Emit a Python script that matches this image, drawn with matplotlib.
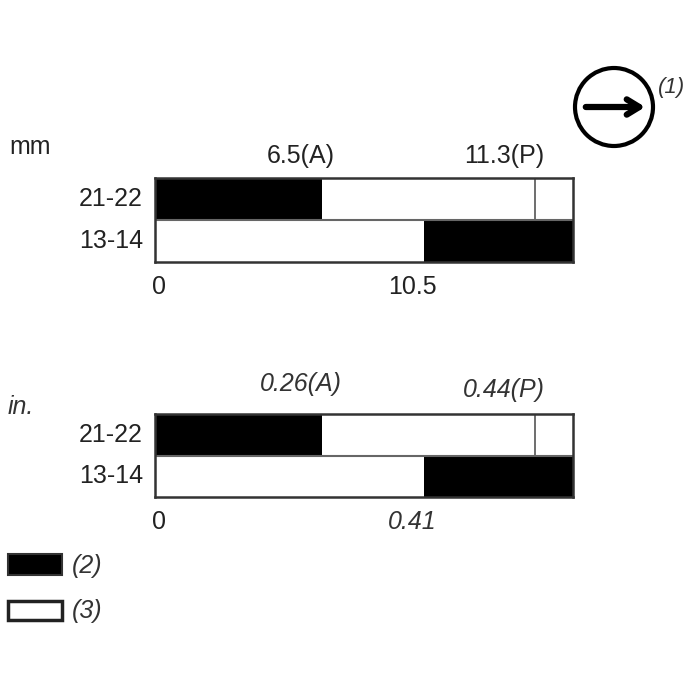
import matplotlib.pyplot as plt
from matplotlib.patches import Circle, Rectangle
plt.ioff()

plt.rcParams['font.family'] = ['Liberation Sans', 'DejaVu Sans']

# rows and segment lengths (mm)
rows = ['21-22', '13-14']
total_len = 16.3
black_start = [0.0, 10.5]
black_len = [6.5, 5.8]
white_start = [6.5, 0.0]
white_len = [9.8, 10.5]
p_mark = 14.83

# labels of the two scales
mm_a, mm_p, mm_tick = 6.5, 11.3, 10.5
in_a, in_p, in_tick = 0.26, 0.44, 0.41

DARK = '#222222'
SOFT = '#333333'
FS = 18

fig = plt.figure(figsize=(7, 7), dpi=100)
fig.patch.set_facecolor('white')


def px_axes(x0, y0, x1, y1):
    # pixel box (top-left origin) -> figure axes
    return fig.add_axes([x0 / 700, 1 - y1 / 700, (x1 - x0) / 700, (y1 - y0) / 700])


def draw_chart(ax, a_val, p_val, tick_val, unit, italic, off):
    ypos = [1, 0]
    ax.barh(ypos, white_len, left=white_start, height=1.0, color='white',
            edgecolor='none', zorder=1)
    ax.barh(ypos, black_len, left=black_start, height=1.0, color='black',
            edgecolor='none', zorder=2)
    ax.plot([p_mark, p_mark], [0.5, 1.5], color='#555555', lw=1.2, zorder=3)
    ax.plot([0, total_len], [0.5, 0.5], color='#666666', lw=1.5, zorder=3)
    ax.set_xlim(0, total_len)
    ax.set_ylim(-0.5, 1.5)
    for s in ax.spines.values():
        s.set_color('#333333')
        s.set_linewidth(1.8)
        s.set_zorder(5)
    ax.set_xticks([])
    ax.set_yticks([])

    style = 'italic' if italic else 'normal'
    col = SOFT if italic else DARK
    ax.annotate('%g(A)' % a_val, xy=(black_len[0], 1.5), xytext=(-21, off[0]),
                textcoords='offset pixels', ha='center', va='center',
                fontsize=FS, style=style, color=col)
    ax.annotate('%g(P)' % p_val, xy=(p_mark, 1.5), xytext=(-31, off[1]),
                textcoords='offset pixels', ha='center', va='center',
                fontsize=FS, style=style, color=col)
    ax.annotate('0', xy=(0, -0.5), xytext=(4, -25), textcoords='offset pixels',
                ha='center', va='center', fontsize=FS, color=DARK)
    ax.annotate('%g' % tick_val, xy=(black_start[1], -0.5), xytext=(-12, -25),
                textcoords='offset pixels', ha='center', va='center',
                fontsize=FS, style=style, color=col)
    for r, yv in zip(rows, ypos):
        ax.annotate(r, xy=(0, yv), xytext=(-12, 0), textcoords='offset pixels',
                    ha='right', va='center', fontsize=FS, color=DARK)
    ax.annotate(unit, xy=(0, 1.5), xytext=(-147 + (22 if not italic else 0), off[2]),
                textcoords='offset pixels', ha='left' if italic else 'center',
                va='center', fontsize=FS, style=style, color=col)


ax1 = px_axes(155, 178, 573, 262)
draw_chart(ax1, mm_a, mm_p, mm_tick, 'mm', False, (22, 22, 31))

ax2 = px_axes(155, 414, 573, 497)
draw_chart(ax2, in_a, in_p, in_tick, 'in.', True, (30, 24, 7))

# overlay for symbol and legend
ov = fig.add_axes([0, 0, 1, 1], zorder=-1)
ov.set_xlim(0, 700)
ov.set_ylim(700, 0)
ov.axis('off')

ov.add_patch(Circle((614, 107), 39, fill=False, lw=3, ec='black'))
ov.annotate('', xy=(648, 107), xytext=(583, 107),
            arrowprops=dict(arrowstyle='->,head_length=0.9,head_width=0.55',
                            lw=4.5, color='black'))
ov.text(672, 87, '(1)', fontsize=16, style='italic', color=SOFT,
        ha='center', va='center')

ov.add_patch(Rectangle((8, 554), 54, 21, fc='black', ec='#333333', lw=1.5))
ov.text(72, 566, '(2)', fontsize=FS, style='italic', color=SOFT, va='center')
ov.add_patch(Rectangle((8, 601), 54, 19, fc='white', ec='#222222', lw=2.5))
ov.text(72, 611, '(3)', fontsize=FS, style='italic', color=SOFT, va='center')

fig.savefig('out.png', dpi=100, facecolor='white')
